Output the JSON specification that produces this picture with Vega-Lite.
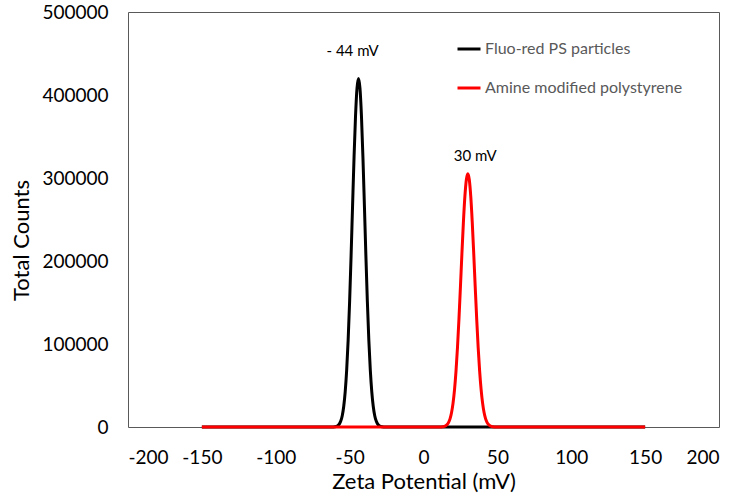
{
  "$schema": "https://vega.github.io/schema/vega-lite/v6.json",
  "width": 591,
  "height": 415,
  "autosize": "none",
  "padding": {"left": 128, "top": 12, "right": 17, "bottom": 70},
  "background": "white",
  "config": {
    "font": "Lato",
    "view": {"stroke": "#595959", "strokeWidth": 1}
  },
  "datasets": {
    "curves": [
      {"series": "Fluo-red PS particles", "x": -150, "y": 0},
      {"series": "Fluo-red PS particles", "x": -61, "y": 0},
      {"series": "Fluo-red PS particles", "x": -60, "y": 300},
      {"series": "Fluo-red PS particles", "x": -59, "y": 710},
      {"series": "Fluo-red PS particles", "x": -58, "y": 1620},
      {"series": "Fluo-red PS particles", "x": -57, "y": 3490},
      {"series": "Fluo-red PS particles", "x": -56, "y": 7090},
      {"series": "Fluo-red PS particles", "x": -55, "y": 13610},
      {"series": "Fluo-red PS particles", "x": -54, "y": 24670},
      {"series": "Fluo-red PS particles", "x": -53, "y": 42280},
      {"series": "Fluo-red PS particles", "x": -52, "y": 68450},
      {"series": "Fluo-red PS particles", "x": -51, "y": 104730},
      {"series": "Fluo-red PS particles", "x": -50, "y": 151380},
      {"series": "Fluo-red PS particles", "x": -49, "y": 206780},
      {"series": "Fluo-red PS particles", "x": -48, "y": 266860},
      {"series": "Fluo-red PS particles", "x": -47, "y": 325420},
      {"series": "Fluo-red PS particles", "x": -46, "y": 374980},
      {"series": "Fluo-red PS particles", "x": -45, "y": 408300},
      {"series": "Fluo-red PS particles", "x": -44, "y": 420000},
      {"series": "Fluo-red PS particles", "x": -43, "y": 408300},
      {"series": "Fluo-red PS particles", "x": -42, "y": 374980},
      {"series": "Fluo-red PS particles", "x": -41, "y": 325420},
      {"series": "Fluo-red PS particles", "x": -40, "y": 266860},
      {"series": "Fluo-red PS particles", "x": -39, "y": 206780},
      {"series": "Fluo-red PS particles", "x": -38, "y": 151380},
      {"series": "Fluo-red PS particles", "x": -37, "y": 104730},
      {"series": "Fluo-red PS particles", "x": -36, "y": 68450},
      {"series": "Fluo-red PS particles", "x": -35, "y": 42280},
      {"series": "Fluo-red PS particles", "x": -34, "y": 24670},
      {"series": "Fluo-red PS particles", "x": -33, "y": 13610},
      {"series": "Fluo-red PS particles", "x": -32, "y": 7090},
      {"series": "Fluo-red PS particles", "x": -31, "y": 3490},
      {"series": "Fluo-red PS particles", "x": -30, "y": 1620},
      {"series": "Fluo-red PS particles", "x": -29, "y": 710},
      {"series": "Fluo-red PS particles", "x": -28, "y": 300},
      {"series": "Fluo-red PS particles", "x": -27, "y": 0},
      {"series": "Fluo-red PS particles", "x": 150, "y": 0},
      {"series": "Amine modified polystyrene", "x": -150, "y": 0},
      {"series": "Amine modified polystyrene", "x": 12, "y": 0},
      {"series": "Amine modified polystyrene", "x": 13, "y": 330},
      {"series": "Amine modified polystyrene", "x": 14, "y": 720},
      {"series": "Amine modified polystyrene", "x": 15, "y": 1500},
      {"series": "Amine modified polystyrene", "x": 16, "y": 2970},
      {"series": "Amine modified polystyrene", "x": 17, "y": 5620},
      {"series": "Amine modified polystyrene", "x": 18, "y": 10150},
      {"series": "Amine modified polystyrene", "x": 19, "y": 17490},
      {"series": "Amine modified polystyrene", "x": 20, "y": 28720},
      {"series": "Amine modified polystyrene", "x": 21, "y": 44990},
      {"series": "Amine modified polystyrene", "x": 22, "y": 67220},
      {"series": "Amine modified polystyrene", "x": 23, "y": 95820},
      {"series": "Amine modified polystyrene", "x": 24, "y": 130270},
      {"series": "Amine modified polystyrene", "x": 25, "y": 168950},
      {"series": "Amine modified polystyrene", "x": 26, "y": 208990},
      {"series": "Amine modified polystyrene", "x": 27, "y": 246570},
      {"series": "Amine modified polystyrene", "x": 28, "y": 277490},
      {"series": "Amine modified polystyrene", "x": 29, "y": 297880},
      {"series": "Amine modified polystyrene", "x": 30, "y": 305000},
      {"series": "Amine modified polystyrene", "x": 31, "y": 297880},
      {"series": "Amine modified polystyrene", "x": 32, "y": 277490},
      {"series": "Amine modified polystyrene", "x": 33, "y": 246570},
      {"series": "Amine modified polystyrene", "x": 34, "y": 208990},
      {"series": "Amine modified polystyrene", "x": 35, "y": 168950},
      {"series": "Amine modified polystyrene", "x": 36, "y": 130270},
      {"series": "Amine modified polystyrene", "x": 37, "y": 95820},
      {"series": "Amine modified polystyrene", "x": 38, "y": 67220},
      {"series": "Amine modified polystyrene", "x": 39, "y": 44990},
      {"series": "Amine modified polystyrene", "x": 40, "y": 28720},
      {"series": "Amine modified polystyrene", "x": 41, "y": 17490},
      {"series": "Amine modified polystyrene", "x": 42, "y": 10150},
      {"series": "Amine modified polystyrene", "x": 43, "y": 5620},
      {"series": "Amine modified polystyrene", "x": 44, "y": 2970},
      {"series": "Amine modified polystyrene", "x": 45, "y": 1500},
      {"series": "Amine modified polystyrene", "x": 46, "y": 720},
      {"series": "Amine modified polystyrene", "x": 47, "y": 330},
      {"series": "Amine modified polystyrene", "x": 48, "y": 0},
      {"series": "Amine modified polystyrene", "x": 150, "y": 0}
    ],
    "labels": [
      {"label": "- 44 mV", "x": -48, "y": 453000},
      {"label": "30 mV", "x": 35, "y": 327000}
    ]
  },
  "layer": [
    {
      "data": {"name": "curves"},
      "transform": [{"filter": "datum.series === 'Fluo-red PS particles'"}],
      "mark": {"type": "line", "strokeWidth": 3, "interpolate": "monotone"},
      "encoding": {
        "x": {
          "field": "x", "type": "quantitative",
          "scale": {"domain": [-200, 200], "nice": false},
          "axis": {
            "title": "Zeta Potential (mV)", "values": [-200, -150, -100, -50, 0, 50, 100, 150, 200],
            "labelExpr": "'' + datum.value",
            "grid": false, "ticks": false, "domain": false,
            "labelFontSize": 19, "labelColor": "#000000", "labelPadding": 21,
            "titleFontSize": 22, "titleFontWeight": "normal", "titleColor": "#000000", "titlePadding": 4
          }
        },
        "y": {
          "field": "y", "type": "quantitative",
          "scale": {"domain": [0, 500000], "nice": false},
          "axis": {
            "title": "Total Counts", "values": [0, 100000, 200000, 300000, 400000, 500000],
            "labelExpr": "'' + datum.value",
            "grid": false, "ticks": false, "domain": false,
            "labelFontSize": 19, "labelColor": "#000000", "labelPadding": 20,
            "titleFontSize": 22, "titleFontWeight": "normal", "titleColor": "#000000",
            "titleX": -107, "titleY": 228, "titleAngle": -90, "titleAlign": "center", "titleBaseline": "middle"
          }
        },
        "color": {
          "field": "series", "type": "nominal",
          "scale": {"domain": ["Fluo-red PS particles", "Amine modified polystyrene"], "range": ["#000000", "#ff0000"]},
          "legend": {
            "title": null, "orient": "none", "legendX": 328, "legendY": 24,
            "symbolType": "stroke", "symbolSize": 529, "symbolStrokeWidth": 3,
            "labelFontSize": 16, "labelColor": "#595959", "labelOffset": 3, "rowPadding": 18,
            "labelLimit": 400
          }
        }
      }
    },
    {
      "data": {"name": "curves"},
      "transform": [{"filter": "datum.series === 'Amine modified polystyrene'"}],
      "mark": {"type": "line", "strokeWidth": 3, "interpolate": "monotone"},
      "encoding": {
        "x": {"field": "x", "type": "quantitative"},
        "y": {"field": "y", "type": "quantitative"},
        "color": {"field": "series", "type": "nominal"}
      }
    },
    {
      "data": {"name": "labels"},
      "mark": {"type": "text", "fontSize": 15, "color": "#000000", "align": "center", "baseline": "middle"},
      "encoding": {
        "x": {"field": "x", "type": "quantitative"},
        "y": {"field": "y", "type": "quantitative"},
        "text": {"field": "label"}
      }
    }
  ]
}
